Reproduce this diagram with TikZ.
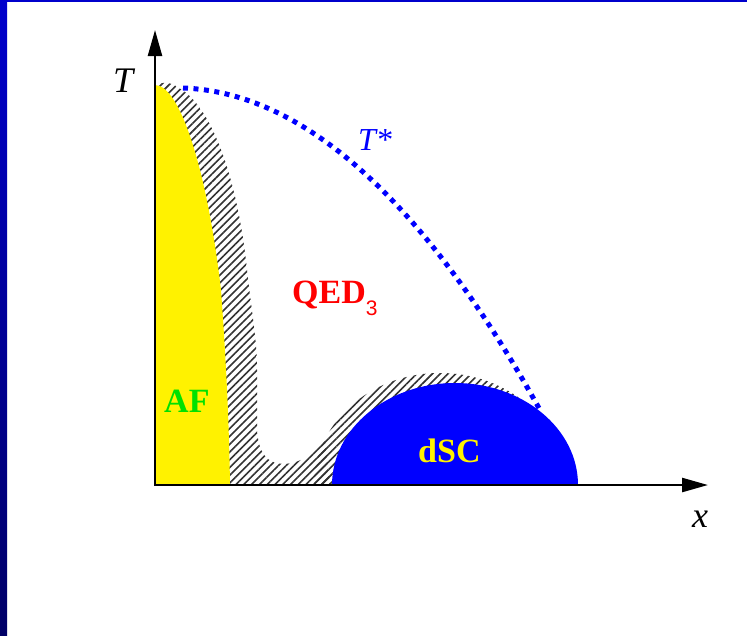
\documentclass[tikz,border=0pt]{standalone}
\usepackage{fontspec}
\setmainfont{Liberation Serif}
\newfontfamily\subsans{Liberation Sans}
\usetikzlibrary{arrows.meta,patterns.meta}
\definecolor{slideblue}{RGB}{0,0,204}
\definecolor{slidenavy}{RGB}{0,0,102}
\definecolor{afgreen}{RGB}{0,225,0}
\tikzset{
  axis/.style={line width=2.4pt,line cap=rect,-{Triangle[length=26pt,width=14pt]}},
  crossover/.style={pattern={Lines[angle=45,distance=5.5pt,line width=1.6pt]},pattern color=black!80},
  tstar/.style={blue,line width=5pt,dash pattern=on 5pt off 5.5pt},
  phase/.style={font=\fontsize{34}{40}\selectfont\bfseries,inner sep=0pt,anchor=base west},
  varlabel/.style={font=\fontsize{36}{40}\selectfont\itshape,inner sep=0pt,anchor=base west}
}
\begin{document}
\begin{tikzpicture}[x=1pt,y=-1pt]
    \useasboundingbox (0,0) rectangle (747,635);
    \fill[white] (0,0) rectangle (747,635);
    \shade[top color=slideblue,bottom color=slidenavy] (0,0) rectangle (7,635);
    \fill[slideblue] (0,0) rectangle (747,2);
    \coordinate (O) at (155,485);
    \coordinate (ytop) at (155,30);
    \coordinate (xend) at (708,485);
    % crossover (hatched) region
    \path[crossover] (155,485) -- (155,85) .. controls (165,81) and (172,83) .. (179,88)
        .. controls (215,108) and (239,190) .. (247,270) .. controls (252,315) and (257,340) .. (257,370)
        -- (257,430) .. controls (259,462) and (275,466) .. (292,463)
        .. controls (305,460) and (315,452) .. (325,440) -- (330,485) -- cycle;
    \path[crossover] (314,485) arc[start angle=180,end angle=360,x radius=126,y radius=112] -- cycle;
    \fill[yellow] (155,485) -- (155,85) .. controls (180,85) and (207,170) .. (221,290)
        .. controls (226,360) and (229,420) .. (230,485) -- cycle;
    \draw[tstar] (183,88) .. controls (300,92) and (421,195) .. (540,410);
    \fill[blue] (332,485) arc[start angle=180,end angle=360,x radius=123,y radius=102] -- cycle;
    \draw[axis] (O) -- (ytop);
    \draw[axis] (O) -- (xend);
    \node[varlabel] (Tlabel) at (113,92) {T};
    \node[varlabel] (xlabel) at (692,527) {x};
    \node[varlabel,blue,font=\fontsize{32}{36}\selectfont\itshape] (Tstar) at (358,150) {T*};
    \node[phase,red] (qed) at (292,303) {QED\raisebox{-12pt}{\subsans\mdseries\fontsize{21}{24}\selectfont 3}};
    \node[phase,afgreen] (af) at (164,412) {AF};
    \node[phase,yellow] (dsc) at (418,462) {dSC};
    %\node[phase] (pg) at (300,200) {PG};
\end{tikzpicture}
\end{document}
